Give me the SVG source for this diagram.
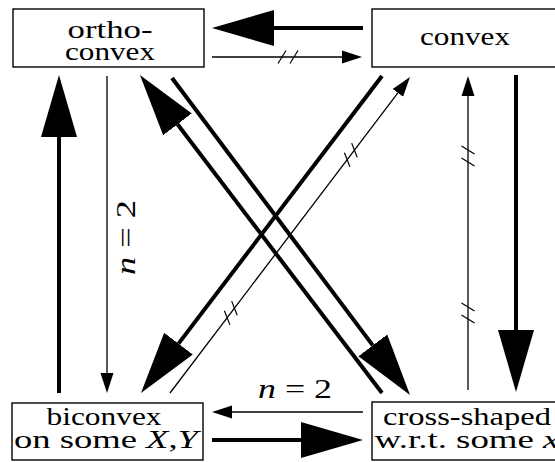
<svg xmlns="http://www.w3.org/2000/svg" xmlns:xlink="http://www.w3.org/1999/xlink" width="555" height="462" viewBox="0 0 555 462">
<style>
.box{fill:#fff;stroke:#000;stroke-width:1.4}
.thick{stroke:#000;stroke-width:4;fill:none}
.thin{stroke:#000;stroke-width:1.3;fill:none}
.tk{marker-end:url(#bigHead)}
.tn{marker-end:url(#smallHead)}
.mark{stroke:#000;stroke-width:1.2;fill:none}
</style>
<defs>
<marker id="bigHead" markerUnits="userSpaceOnUse" markerWidth="64" markerHeight="38" viewBox="0 -19 64 38" refX="0" refY="0" orient="auto">
<path d="M0,-18 L62,0 L0,18 Z" fill="#000"/>
</marker>
<marker id="smallHead" markerUnits="userSpaceOnUse" markerWidth="22" markerHeight="14" viewBox="0 -7 22 14" refX="0" refY="0" orient="auto">
<path d="M0,-6.5 L20,0 L0,6.5 Z" fill="#000"/>
</marker>
<path id="dbl" class="mark" d="M-10,6.5 L-2,-6.5 M2,6.5 L10,-6.5"/>
</defs>
<rect x="0" y="0" width="555" height="462" fill="#fff"/>

<g id="connectors">
<path class="thick tk" d="M363,28 L274,28"/>
<path class="thin tn" d="M212,57 L342,57"/>
<use xlink:href="#dbl" transform="translate(288,57)"/>
<path class="thick tk" d="M59,393 L59,137"/>
<path class="thin tn" d="M107,76 L107,373"/>
<text style="font-family:'Liberation Serif',serif;font-size:27px;text-anchor:middle" transform="translate(135,237.5) rotate(-90)" textLength="75" lengthAdjust="spacingAndGlyphs"><tspan font-style="italic">n</tspan> = 2</text>
<path class="thin tn" d="M468,390 L468,96"/>
<use xlink:href="#dbl" transform="translate(468,156) rotate(-90)"/>
<use xlink:href="#dbl" transform="translate(468,313) rotate(-90)"/>
<path class="thick tk" d="M516,75 L516,330"/>
<path class="thin tn" d="M363,412 L232,412"/>
<text style="font-family:'Liberation Serif',serif;font-size:27px;text-anchor:middle" x="295" y="398" textLength="74" lengthAdjust="spacingAndGlyphs"><tspan font-style="italic">n</tspan> = 2</text>
<path class="thick tk" d="M212,440 L301,440"/>
<path class="thick tk" d="M382,393 L177.5,124.3"/>
<path class="thick tk" d="M172,78 L372.8,345.4"/>
<path class="thick tk" d="M382,76 L178.5,343.6"/>
<path class="thin tn" d="M170,393 L397.9,92.9"/>
<use xlink:href="#dbl" transform="translate(230.8,313) rotate(-52.78)"/>
<use xlink:href="#dbl" transform="translate(350.8,155) rotate(-52.78)"/>
</g>

<g id="ortho-convex">
<rect class="box" x="13" y="9" width="191" height="58"/>
<text style="font-family:'Liberation Serif',serif;font-size:26px;text-anchor:middle" x="110" y="38" textLength="85" lengthAdjust="spacingAndGlyphs">ortho-</text>
<text style="font-family:'Liberation Serif',serif;font-size:26px;text-anchor:middle" x="110" y="60" textLength="90" lengthAdjust="spacingAndGlyphs">convex</text>
</g>
<g id="convex">
<rect class="box" x="372" y="9" width="191" height="58"/>
<text style="font-family:'Liberation Serif',serif;font-size:26px;text-anchor:middle" x="465" y="45" textLength="90" lengthAdjust="spacingAndGlyphs">convex</text>
</g>
<g id="biconvex">
<rect class="box" x="12" y="403" width="191" height="57"/>
<text style="font-family:'Liberation Serif',serif;font-size:26px;text-anchor:middle" x="104" y="425" textLength="115" lengthAdjust="spacingAndGlyphs">biconvex</text>
<text style="font-family:'Liberation Serif',serif;font-size:26px;text-anchor:middle" x="106" y="448" textLength="184" lengthAdjust="spacingAndGlyphs">on some <tspan font-style="italic">X</tspan>,<tspan font-style="italic">Y</tspan></text>
</g>
<g id="cross-shaped">
<rect class="box" x="372" y="402" width="191" height="58"/>
<text style="font-family:'Liberation Serif',serif;font-size:26px;text-anchor:middle" x="467" y="425" textLength="168" lengthAdjust="spacingAndGlyphs">cross-shaped</text>
<text style="font-family:'Liberation Serif',serif;font-size:26px;text-anchor:middle" x="467" y="448" textLength="185" lengthAdjust="spacingAndGlyphs">w.r.t. some <tspan font-style="italic">x</tspan></text>
</g>
</svg>
